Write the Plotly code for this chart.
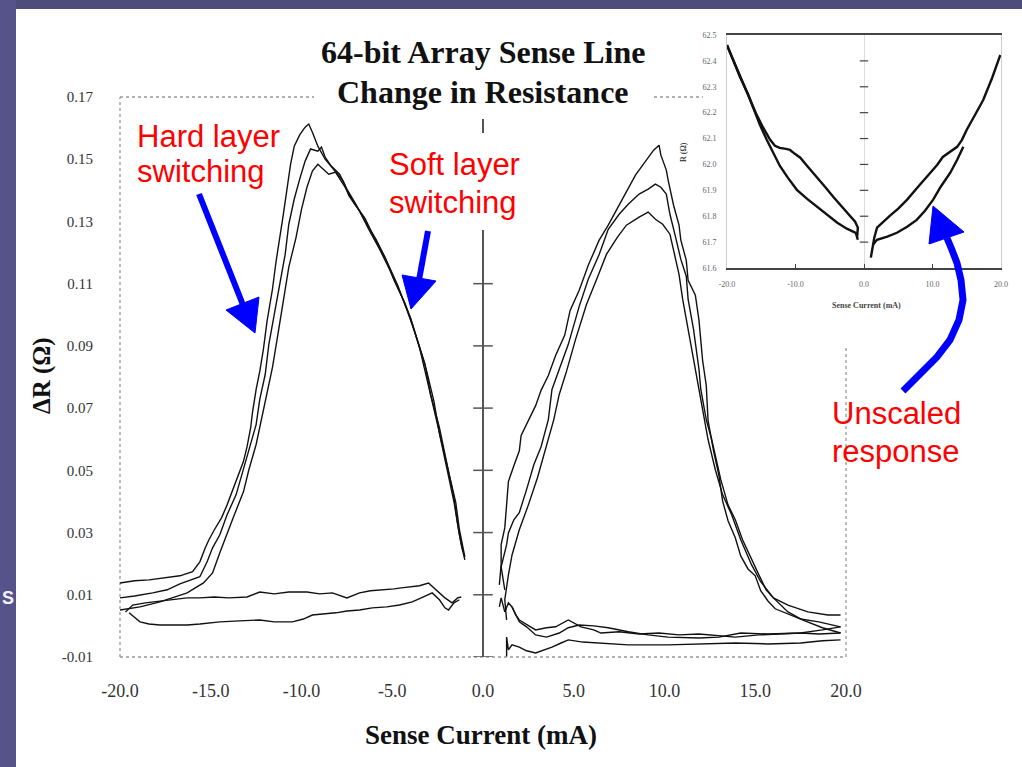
import plotly.graph_objects as go

W, H = 1022, 767

# ---------------- data ----------------
# Main plot: Delta R (ohm) vs sense current (mA)
neg_up1_x = [-20.0, -19.2, -18.4, -17.5, -16.7, -16.0, -15.6, -15.3, -15.1, -14.8, -14.4, -14.1, -13.6, -13.2, -13.0, -12.8,
             -12.7, -12.5, -12.3, -12.1, -11.9, -11.6, -11.4, -11.2, -11.0, -10.8, -10.6, -10.4, -10.1, -9.8, -9.6, -9.4,
             -9.1, -8.7, -8.2, -7.6, -7.1, -6.5, -6.0, -5.4, -4.9, -4.3, -3.9, -3.5, -3.1, -2.7, -2.3, -1.9, -1.5, -1.3, -1.0]
neg_up1_y = [0.0138, 0.0145, 0.0148, 0.0154, 0.0161, 0.0174, 0.0206, 0.0251, 0.0277, 0.0309, 0.0348, 0.0389, 0.0470, 0.0528,
             0.0576, 0.0637, 0.0686, 0.0760, 0.0818, 0.0889, 0.0979, 0.1082, 0.1172, 0.1243, 0.1323, 0.1404, 0.1484, 0.1542,
             0.1578, 0.1603, 0.1613, 0.1587, 0.1542, 0.1500, 0.1465, 0.1410, 0.1359, 0.1310, 0.1249, 0.1185, 0.1111, 0.1037,
             0.0972, 0.0895, 0.0795, 0.0699, 0.0599, 0.0489, 0.0396, 0.0309, 0.0222]

neg_up2_x = [-20.0, -19.2, -18.2, -17.4, -16.7, -16.2, -15.6, -15.2, -14.9, -14.5, -14.1, -13.6, -13.2, -12.9, -12.5, -12.3,
             -12.0, -11.8, -11.5, -11.2, -10.9, -10.7, -10.4, -10.1, -9.8, -9.5, -9.1, -8.9, -8.7, -8.4, -7.9, -7.5, -7.0,
             -6.5, -5.9, -5.3, -4.7, -4.2, -3.7, -3.2, -2.9, -2.4, -2.0, -1.6, -1.4, -1.2, -1.0]
neg_up2_y = [0.0090, 0.0096, 0.0106, 0.0116, 0.0135, 0.0145, 0.0158, 0.0206, 0.0251, 0.0293, 0.0357, 0.0422, 0.0502, 0.0567,
             0.0647, 0.0728, 0.0808, 0.0905, 0.1001, 0.1098, 0.1194, 0.1291, 0.1372, 0.1436, 0.1494, 0.1533, 0.1526, 0.1539,
             0.1507, 0.1481, 0.1452, 0.1404, 0.1355, 0.1301, 0.1243, 0.1172, 0.1095, 0.1017, 0.0934, 0.0843, 0.0747, 0.0637,
             0.0528, 0.0412, 0.0328, 0.0261, 0.0212]

neg_up3_x = [-20.0, -18.9, -17.8, -16.3, -15.4, -14.9, -14.5, -14.1, -13.7, -13.2, -12.9, -12.5, -12.2, -11.9, -11.6, -11.3,
             -11.0, -10.7, -10.3, -10.0, -9.7, -9.4, -9.1, -8.8, -8.5, -8.1, -7.7, -7.4, -6.8, -6.3, -5.7, -5.1, -4.5, -4.0,
             -3.6, -3.1, -2.7, -2.4, -2.0, -1.6, -1.3, -1.1]
neg_up3_y = [0.0051, 0.0061, 0.0077, 0.0106, 0.0138, 0.0170, 0.0235, 0.0299, 0.0357, 0.0431, 0.0502, 0.0583, 0.0663, 0.0744,
             0.0831, 0.0937, 0.1050, 0.1153, 0.1249, 0.1339, 0.1410, 0.1462, 0.1484, 0.1468, 0.1452, 0.1459, 0.1430, 0.1384,
             0.1333, 0.1275, 0.1211, 0.1140, 0.1062, 0.0991, 0.0914, 0.0818, 0.0721, 0.0618, 0.0509, 0.0399, 0.0293, 0.0238]

neg_flat1_x = [-19.7, -19.3, -18.6, -17.8, -17.0, -16.3, -15.6, -14.8, -14.0, -13.0, -12.3, -11.5, -10.7, -9.7, -9.0, -8.3,
               -7.5, -6.8, -6.2, -5.4, -4.9, -4.5, -4.0, -3.5, -3.0, -2.7, -2.4, -2.1, -1.7, -1.4, -1.2]
neg_flat1_y = [0.0045, 0.0067, 0.0074, 0.0080, 0.0087, 0.0090, 0.0090, 0.0093, 0.0090, 0.0093, 0.0109, 0.0103, 0.0109, 0.0109,
               0.0103, 0.0106, 0.0090, 0.0106, 0.0113, 0.0116, 0.0119, 0.0122, 0.0125, 0.0129, 0.0138, 0.0122, 0.0106, 0.0090,
               0.0074, 0.0090, 0.0093]

neg_flat2_x = [-19.5, -18.9, -18.4, -17.8, -17.0, -16.3, -15.6, -14.5, -13.4, -12.3, -11.5, -10.5, -9.9, -9.4, -8.7, -8.1,
               -7.5, -6.8, -6.1, -5.3, -4.6, -3.9, -3.4, -2.8, -2.4, -2.1, -1.9, -1.6, -1.3]
neg_flat2_y = [0.0042, 0.0013, 0.0006, 0.0003, 0.0003, 0.0003, 0.0006, 0.0013, 0.0016, 0.0019, 0.0013, 0.0013, 0.0022, 0.0035,
               0.0039, 0.0042, 0.0048, 0.0051, 0.0058, 0.0061, 0.0067, 0.0077, 0.0090, 0.0106, 0.0084, 0.0058, 0.0051, 0.0074,
               0.0084]

pos_up1_x = [0.9, 1.0, 1.0, 1.2, 1.3, 1.4, 1.7, 2.0, 2.1, 2.5, 2.9, 3.2, 3.6, 4.0, 4.5, 4.8, 5.3, 5.8, 6.4, 6.9, 7.5, 7.9,
             8.4, 9.0, 9.4, 9.7, 9.8, 10.1, 10.2, 10.5, 10.8, 10.9, 11.2, 11.3, 11.7, 11.9, 12.1, 12.3, 12.4, 12.7, 13.0, 13.2,
             13.5, 13.9, 14.2, 14.6, 15.0, 15.3, 15.7, 16.1, 16.8, 17.5, 18.5, 19.7]
pos_up1_y = [0.0132, 0.0196, 0.0261, 0.0315, 0.0389, 0.0464, 0.0515, 0.0563, 0.0612, 0.0660, 0.0708, 0.0757, 0.0805, 0.0869,
             0.0934, 0.1014, 0.1079, 0.1159, 0.1240, 0.1288, 0.1352, 0.1394, 0.1449, 0.1497, 0.1529, 0.1545, 0.1513, 0.1465,
             0.1433, 0.1352, 0.1288, 0.1240, 0.1175, 0.1111, 0.1063, 0.0982, 0.0853, 0.0773, 0.0660, 0.0563, 0.0483, 0.0402,
             0.0338, 0.0283, 0.0225, 0.0183, 0.0161, 0.0113, 0.0080, 0.0055, 0.0039, 0.0022, 0.0013, -0.0003]

pos_up2_x = [1.2, 1.0, 1.3, 1.4, 1.7, 2.0, 2.4, 2.8, 3.2, 3.6, 3.8, 4.2, 4.7, 5.3, 5.8, 6.4, 6.9, 7.5, 8.0, 8.6, 9.1, 9.5,
             9.8, 10.1, 10.3, 10.6, 10.9, 11.2, 11.3, 11.6, 11.9, 12.0, 12.3, 12.6, 12.9, 13.1, 13.5, 13.9, 14.3, 14.8, 15.2,
             15.6, 16.0, 16.8, 17.9, 19.0, 19.7]
pos_up2_y = [0.0116, 0.0190, 0.0261, 0.0299, 0.0341, 0.0364, 0.0438, 0.0518, 0.0576, 0.0663, 0.0760, 0.0824, 0.0905, 0.1027,
             0.1114, 0.1194, 0.1275, 0.1323, 0.1355, 0.1388, 0.1404, 0.1420, 0.1410, 0.1388, 0.1323, 0.1252, 0.1178, 0.1124,
             0.1050, 0.0953, 0.0824, 0.0760, 0.0663, 0.0599, 0.0518, 0.0470, 0.0389, 0.0341, 0.0277, 0.0212, 0.0164, 0.0116,
             0.0090, 0.0067, 0.0045, 0.0035, 0.0035]

pos_up3_x = [1.3, 1.2, 1.4, 1.6, 2.0, 2.5, 3.0, 3.4, 3.9, 4.2, 4.6, 5.1, 5.7, 6.3, 6.8, 7.4, 7.9, 8.6, 9.1, 9.5, 9.9, 10.3,
             10.5, 10.8, 11.0, 11.3, 11.6, 11.9, 12.1, 12.4, 12.8, 13.2, 13.7, 14.2, 14.8, 15.3, 16.0, 16.8, 17.6, 18.7, 19.7]
pos_up3_y = [0.0019, 0.0084, 0.0164, 0.0228, 0.0309, 0.0389, 0.0476, 0.0560, 0.0663, 0.0744, 0.0818, 0.0921, 0.1033, 0.1120,
             0.1194, 0.1249, 0.1288, 0.1314, 0.1330, 0.1307, 0.1291, 0.1259, 0.1211, 0.1130, 0.1050, 0.0953, 0.0856, 0.0760,
             0.0695, 0.0599, 0.0502, 0.0422, 0.0357, 0.0277, 0.0196, 0.0142, 0.0090, 0.0045, 0.0019, -0.0006, -0.0023]

pos_flat1_x = [0.9, 1.0, 1.2, 1.4, 1.6, 1.8, 2.0, 2.4, 2.9, 3.5, 4.0, 4.7, 5.4, 6.1, 6.5, 7.5, 8.6, 9.7, 10.8, 11.9, 13.0,
               13.9, 15.2, 16.3, 17.5, 18.5, 19.7]
pos_flat1_y = [0.0061, 0.0090, 0.0045, 0.0074, 0.0061, 0.0035, 0.0019, 0.0006, -0.0013, -0.0006, -0.0003, 0.0019, -0.0003,
               -0.0013, -0.0023, -0.0019, -0.0026, -0.0023, -0.0029, -0.0026, -0.0032, -0.0036, -0.0029, -0.0026, -0.0023,
               -0.0026, -0.0023]

pos_flat2_x = [1.6, 2.0, 2.4, 2.9, 3.5, 4.2, 4.7, 5.3, 6.1, 6.9, 8.0, 9.1, 10.2, 11.9, 13.0, 14.2, 15.7, 17.5, 18.7, 19.7]
pos_flat2_y = [0.0061, 0.0013, -0.0003, -0.0029, -0.0036, -0.0023, -0.0006, 0.0003, 0.0000, -0.0006, -0.0019, -0.0029,
               -0.0036, -0.0039, -0.0036, -0.0023, -0.0026, -0.0023, -0.0013, -0.0003]

pos_flat3_x = [1.3, 1.3, 1.4, 1.6, 2.0, 2.4, 2.9, 3.4, 3.8, 4.3, 4.7, 5.5, 6.5, 8.0, 10.2, 11.9, 13.9, 15.7, 17.5, 18.7, 19.7]
pos_flat3_y = [-0.0098, -0.0036, -0.0077, -0.0061, -0.0068, -0.0080, -0.0087, -0.0077, -0.0068, -0.0055, -0.0045, -0.0052,
               -0.0055, -0.0061, -0.0061, -0.0058, -0.0055, -0.0058, -0.0055, -0.0048, -0.0045]

main_xticks = [-20, -15, -10, -5, 0, 5, 10, 15, 20]
main_xlabels = ["-20.0", "-15.0", "-10.0", "-5.0", "0.0", "5.0", "10.0", "15.0", "20.0"]
main_yticks = [0.17, 0.15, 0.13, 0.11, 0.09, 0.07, 0.05, 0.03, 0.01, -0.01]
main_ylabels = ["0.17", "0.15", "0.13", "0.11", "0.09", "0.07", "0.05", "0.03", "0.01", "-0.01"]

# Inset: unscaled resistance R (ohm) vs sense current (mA)
ins_negA_x = [-20.0, -19.1, -18.1, -16.9, -15.8, -14.7, -13.7, -13.0, -12.3, -11.4, -10.8, -10.1, -9.3, -8.2, -6.9, -5.7,
              -4.5, -3.2, -2.0, -1.3, -0.9, -1.0]
ins_negA_y = [62.461, 62.404, 62.338, 62.269, 62.199, 62.141, 62.095, 62.072, 62.064, 62.060, 62.056, 62.041, 62.026,
              61.991, 61.952, 61.914, 61.875, 61.837, 61.802, 61.779, 61.756, 61.721]
ins_negB_x = [-20.0, -18.1, -16.9, -15.2, -14.2, -13.3, -12.3, -11.1, -9.8, -8.3, -6.9, -5.4, -3.9, -2.5, -1.2, -0.9]
ins_negB_y = [62.461, 62.338, 62.269, 62.153, 62.095, 62.049, 61.995, 61.948, 61.902, 61.867, 61.837, 61.806, 61.775,
              61.752, 61.736, 61.709]
ins_posC_x = [1.0, 1.2, 1.5, 1.9, 2.8, 3.8, 5.0, 6.3, 7.9, 9.6, 10.7, 11.5, 12.6, 13.6, 14.3, 15.0, 16.2, 17.4, 18.7,
              19.9]
ins_posC_y = [61.640, 61.678, 61.717, 61.756, 61.779, 61.802, 61.829, 61.864, 61.914, 61.968, 61.999, 62.029, 62.049,
              62.068, 62.095, 62.134, 62.191, 62.249, 62.334, 62.423]
ins_posD_x = [1.3, 1.9, 3.4, 4.8, 6.3, 7.7, 8.9, 10.1, 11.2, 12.6, 13.6, 14.5]
ins_posD_y = [61.690, 61.709, 61.721, 61.736, 61.759, 61.786, 61.821, 61.864, 61.914, 61.968, 62.018, 62.068]

ins_xticks = [-20, -10, 0, 10, 20]
ins_xlabels = ["-20.0", "-10.0", "0.0", "10.0", "20.0"]
ins_yticks = [62.5, 62.4, 62.3, 62.2, 62.1, 62.0, 61.9, 61.8, 61.7, 61.6]
ins_ylabels = ["62.5", "62.4", "62.3", "62.2", "62.1", "62.0", "61.9", "61.8", "61.7", "61.6"]


# ---------------- helpers for placement (pixels -> paper) ----------------
def px(x):
    return x / W


def py(y):
    return 1 - y / H


SERIF = "Liberation Serif, Times New Roman, serif"
SANS = "Liberation Sans, Arial, sans-serif"

fig = go.Figure()

main_series = [
    (neg_up1_x, neg_up1_y), (neg_up2_x, neg_up2_y), (neg_up3_x, neg_up3_y),
    (neg_flat1_x, neg_flat1_y), (neg_flat2_x, neg_flat2_y),
    (pos_up1_x, pos_up1_y), (pos_up2_x, pos_up2_y), (pos_up3_x, pos_up3_y),
    (pos_flat1_x, pos_flat1_y), (pos_flat2_x, pos_flat2_y), (pos_flat3_x, pos_flat3_y),
]
for xs, ys in main_series:
    fig.add_trace(go.Scatter(x=xs, y=ys, mode="lines", line=dict(color="#111111", width=1.4),
                             xaxis="x", yaxis="y", hoverinfo="skip"))

# tick crosses on the central (x = 0) axis
fig.add_trace(go.Scatter(x=[0] * len(main_yticks), y=main_yticks, mode="markers",
                         marker=dict(symbol="line-ew", size=14, line=dict(color="#555555", width=1.5)),
                         xaxis="x", yaxis="y", hoverinfo="skip"))

inset_series = [(ins_negA_x, ins_negA_y), (ins_negB_x, ins_negB_y), (ins_posC_x, ins_posC_y), (ins_posD_x, ins_posD_y)]
for xs, ys in inset_series:
    fig.add_trace(go.Scatter(x=xs, y=ys, mode="lines", line=dict(color="#111111", width=2.4),
                             xaxis="x2", yaxis="y2", hoverinfo="skip"))
fig.add_trace(go.Scatter(x=[0] * (len(ins_yticks) - 2), y=ins_yticks[1:-1], mode="markers",
                         marker=dict(symbol="line-ew", size=6, line=dict(color="#444444", width=1.2)),
                         xaxis="x2", yaxis="y2", hoverinfo="skip"))

main_left, main_right, main_top, main_bottom = 120, 846, 97, 657
ins_left, ins_right, ins_top, ins_bottom = 727, 1001, 35, 268

fig.update_layout(
    width=W, height=H, margin=dict(l=0, r=0, t=0, b=0, pad=0, autoexpand=False), autosize=False,
    paper_bgcolor="white", plot_bgcolor="rgba(0,0,0,0)", showlegend=False,
    xaxis=dict(domain=[px(main_left), px(main_right)], range=[-20, 20], anchor="y", automargin=False,
               showgrid=False, showline=False, zeroline=True, zerolinecolor="#555555", zerolinewidth=2,
               tickvals=main_xticks, ticktext=main_xlabels, ticks="", ticklabelstandoff=21,
               tickfont=dict(family=SERIF, size=18, color="#333333")),
    yaxis=dict(domain=[py(main_bottom), py(main_top)], range=[-0.01, 0.17], anchor="x", automargin=False,
               showgrid=False, showline=False, zeroline=False,
               tickvals=main_yticks, ticktext=main_ylabels, ticks="", ticklabelstandoff=26,
               tickfont=dict(family=SERIF, size=15, color="#333333")),
    xaxis2=dict(domain=[px(ins_left), px(ins_right)], range=[-20, 20], anchor="y2", automargin=False,
                showgrid=False, showline=True, linecolor="#444444", linewidth=2, mirror=True,
                zeroline=True, zerolinecolor="#dddddd", zerolinewidth=1,
                tickvals=ins_xticks, ticktext=ins_xlabels, ticks="inside", ticklen=4, tickcolor="#444444",
                ticklabelstandoff=7, tickfont=dict(family=SERIF, size=8, color="#666666")),
    yaxis2=dict(domain=[py(ins_bottom), py(ins_top)], range=[61.6, 62.5], anchor="x2", automargin=False,
                showgrid=False, showline=True, linecolor="#cccccc", linewidth=1, mirror=True, zeroline=False,
                tickvals=ins_yticks, ticktext=ins_ylabels, ticks="", ticklabelstandoff=8,
                tickfont=dict(family=SERIF, size=8, color="#666666")),
)

shapes = []
# slide background strips
shapes.append(dict(type="rect", xref="paper", yref="paper", x0=px(0), x1=px(W), y0=py(0), y1=py(9),
                   fillcolor="#4e4c7a", line=dict(width=0), layer="above"))
shapes.append(dict(type="rect", xref="paper", yref="paper", x0=px(0), x1=px(16), y0=py(0), y1=py(H),
                   fillcolor="#56538a", line=dict(width=0), layer="above"))
# dotted plot-area border of the main chart
dot = dict(color="#999999", width=1.3, dash="dot")
shapes.append(dict(type="line", xref="paper", yref="paper", x0=px(main_left), x1=px(main_left),
                   y0=py(main_bottom), y1=py(main_top), line=dot, layer="below"))
shapes.append(dict(type="line", xref="paper", yref="paper", x0=px(main_left), x1=px(main_right),
                   y0=py(main_bottom), y1=py(main_bottom), line=dot, layer="below"))
shapes.append(dict(type="line", xref="paper", yref="paper", x0=px(main_left), x1=px(703),
                   y0=py(main_top), y1=py(main_top), line=dot, layer="below"))
shapes.append(dict(type="line", xref="paper", yref="paper", x0=px(main_right), x1=px(main_right),
                   y0=py(main_bottom), y1=py(345), line=dot, layer="below"))
# white boxes behind the title and the "Soft layer switching" label
shapes.append(dict(type="rect", xref="paper", yref="paper", x0=px(314), x1=px(654), y0=py(20), y1=py(119),
                   fillcolor="white", line=dict(width=0), layer="above"))
shapes.append(dict(type="rect", xref="paper", yref="paper", x0=px(386), x1=px(524), y0=py(133), y1=py(230),
                   fillcolor="white", line=dict(width=0), layer="above"))

BLUE = "#0000ff"


def tri(p1, p2, p3):
    return "M {} {} L {} {} L {} {} Z".format(px(p1[0]), py(p1[1]), px(p2[0]), py(p2[1]), px(p3[0]), py(p3[1]))


# Hard layer arrow
shapes.append(dict(type="line", xref="paper", yref="paper", x0=px(199), y0=py(194), x1=px(243), y1=py(305),
                   line=dict(color=BLUE, width=6), layer="above"))
shapes.append(dict(type="path", xref="paper", yref="paper", path=tri((226, 310), (259, 297), (255, 333)),
                   fillcolor=BLUE, line=dict(color=BLUE, width=1), layer="above"))
# Soft layer arrow
shapes.append(dict(type="line", xref="paper", yref="paper", x0=px(428), y0=py(231), x1=px(419), y1=py(280),
                   line=dict(color=BLUE, width=6), layer="above"))
shapes.append(dict(type="path", xref="paper", yref="paper", path=tri((402, 275), (436, 281), (411, 309)),
                   fillcolor=BLUE, line=dict(color=BLUE, width=1), layer="above"))
# Curved "Unscaled response" arrow
curve_pts = [(903, 391), (920, 374), (937, 357), (950, 340), (959, 320), (963, 300), (961, 280), (957, 263),
             (952, 250), (947, 238)]
path = "M {} {}".format(px(curve_pts[0][0]), py(curve_pts[0][1]))
for (a, b) in curve_pts[1:]:
    path += " L {} {}".format(px(a), py(b))
shapes.append(dict(type="path", xref="paper", yref="paper", path=path,
                   line=dict(color=BLUE, width=7), layer="above"))
shapes.append(dict(type="path", xref="paper", yref="paper", path=tri((933, 206), (929, 244), (964, 232)),
                   fillcolor=BLUE, line=dict(color=BLUE, width=1), layer="above"))

fig.update_layout(shapes=shapes)

ann = []
for txt, y in [("64-bit Array Sense Line", 52), ("Change in Resistance", 92)]:
    ann.append(dict(text="<b>" + txt + "</b>", x=px(483), y=py(y), xref="paper", yref="paper", showarrow=False,
                    xanchor="center", yanchor="middle", font=dict(family=SERIF, size=32, color="#111111")))
ann.append(dict(text="<b>Sense Current (mA)</b>", x=px(481), y=py(735), xref="paper", yref="paper",
                showarrow=False, xanchor="center", yanchor="middle",
                font=dict(family=SERIF, size=27, color="#111111")))
ann.append(dict(text="<b>ΔR (Ω)</b>", x=px(42), y=py(376), xref="paper", yref="paper", textangle=-90,
                showarrow=False, xanchor="center", yanchor="middle",
                font=dict(family=SERIF, size=25, color="#111111")))
RED = "#ff0000"
for txt, x, y, anc in [("Hard layer", 135, 136, "left"), ("switching", 135, 171, "left"),
                       ("Soft layer", 387, 164, "left"), ("switching", 387, 203, "left"),
                       ("Unscaled", 896, 414, "center"), ("response", 896, 452, "center")]:
    ann.append(dict(text=txt, x=px(x), y=py(y), xref="paper", yref="paper", showarrow=False,
                    xanchor=anc, yanchor="middle", font=dict(family=SANS, size=31, color=RED)))
# inset axis titles
ann.append(dict(text="<b>Sense Current (mA)</b>", x=px(866), y=py(305), xref="paper", yref="paper",
                showarrow=False, xanchor="center", yanchor="middle",
                font=dict(family=SERIF, size=8, color="#444444")))
ann.append(dict(text="<b>R (Ω)</b>", x=px(683), y=py(152), xref="paper", yref="paper", textangle=-90,
                showarrow=False, xanchor="center", yanchor="middle",
                font=dict(family=SERIF, size=8, color="#444444")))
# slide glyph on the left strip
ann.append(dict(text="<b>S</b>", x=px(8), y=py(598), xref="paper", yref="paper", showarrow=False,
                xanchor="center", yanchor="middle", font=dict(family=SANS, size=18, color="#f2f2f2")))
fig.update_layout(annotations=ann)

post = ("document.documentElement.style.margin='0';document.documentElement.style.padding='0';"
        "document.documentElement.style.overflow='hidden';"
        "document.body.style.margin='0';document.body.style.padding='0';document.body.style.overflow='hidden';"
        "var g=document.getElementsByClassName('plotly-graph-div')[0];"
        "g.style.position='absolute';g.style.left='0px';g.style.top='0px';")
fig.write_html("out.html", post_script=post, config={"displayModeBar": False})
